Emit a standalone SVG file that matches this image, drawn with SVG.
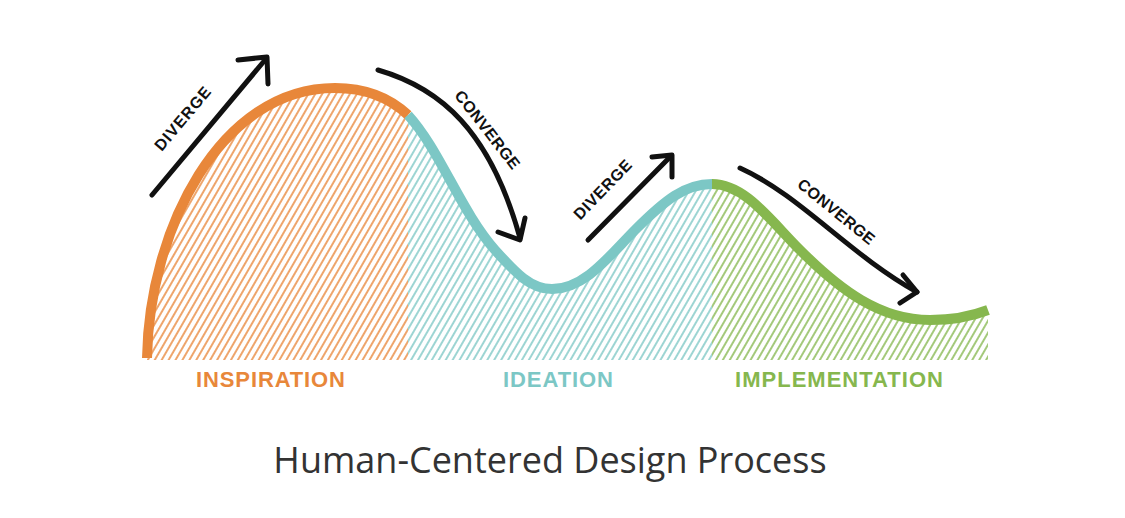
<svg xmlns="http://www.w3.org/2000/svg" width="1125" height="518" viewBox="0 0 1125 518">
<style>
.arrow{fill:none;stroke:#111;stroke-width:5;stroke-linecap:round;stroke-linejoin:round}
.alabel{font-family:"Liberation Sans",Arial,sans-serif;font-weight:bold;font-size:16px;fill:#111}
.phase{font-family:"Liberation Sans",Arial,sans-serif;font-weight:bold;font-size:22px}
.curve{fill:none;stroke-width:10;stroke-linecap:butt}
</style>
<defs>
<pattern id="hO" width="6" height="10" patternUnits="userSpaceOnUse" patternTransform="rotate(30)"><line x1="2" y1="0" x2="2" y2="10" stroke="#E8873A" stroke-width="1.5"/></pattern>
<pattern id="hT" width="6" height="10" patternUnits="userSpaceOnUse" patternTransform="rotate(30)"><line x1="2" y1="0" x2="2" y2="10" stroke="#7CC7C5" stroke-width="1.5"/></pattern>
<pattern id="hG" width="6" height="10" patternUnits="userSpaceOnUse" patternTransform="rotate(30)"><line x1="2" y1="0" x2="2" y2="10" stroke="#86B74E" stroke-width="1.5"/></pattern>
<clipPath id="area"><path d="M147,358 C149,230 220,88 335,88 C368,88 392,100 408,115 C440,150 460,210 495,250 C515,272 530,289 552,289 C585,289 610,255 635,230 C665,200 685,184 712,184 C745,184 770,220 800,250 C840,290 880,320 930,320 C955,320 975,315 988,310 L988,360 L147,360 Z"/></clipPath>
</defs>
<rect width="1125" height="518" fill="#fff"/>
<g id="hatch" clip-path="url(#area)">
<rect x="140" y="60" width="268" height="300" fill="url(#hO)"/>
<rect x="408" y="60" width="304" height="300" fill="url(#hT)"/>
<rect x="712" y="60" width="280" height="300" fill="url(#hG)"/>
</g>
<g id="inspiration">
<path class="curve" stroke="#E8873A" d="M147,358 C149,230 220,88 335,88 C368,88 392,100 408,115"/>
<text class="phase" x="270.5" y="387" text-anchor="middle" fill="#E8873A" textLength="149" lengthAdjust="spacing">INSPIRATION</text>
</g>
<g id="ideation">
<path class="curve" stroke="#7CC7C5" d="M408,115 C440,150 460,210 495,250 C515,272 530,289 552,289 C585,289 610,255 635,230 C665,200 685,184 712,184"/>
<text class="phase" x="558" y="387" text-anchor="middle" fill="#7CC7C5" textLength="110" lengthAdjust="spacing">IDEATION</text>
</g>
<g id="implementation">
<path class="curve" stroke="#86B74E" d="M712,184 C745,184 770,220 800,250 C840,290 880,320 930,320 C955,320 975,315 988,310"/>
<text class="phase" x="839" y="387" text-anchor="middle" fill="#86B74E" textLength="208" lengthAdjust="spacing">IMPLEMENTATION</text>
</g>
<g id="connectors">
<g id="diverge1">
<path class="arrow" d="M152,195 L265,60"/>
<path class="arrow" d="M238,60 L267,57 L268,84"/>
<text class="alabel" transform="translate(183,119) rotate(-50)" x="0" y="5" text-anchor="middle" textLength="78" lengthAdjust="spacing">DIVERGE</text>
</g>
<g id="converge1">
<path class="arrow" d="M378,70 C440,88 490,130 520,238"/>
<path class="arrow" d="M498,232 L520,240 L525,218"/>
<text class="alabel" transform="translate(487,130) rotate(52)" x="0" y="5" text-anchor="middle" textLength="95" lengthAdjust="spacing">CONVERGE</text>
</g>
<g id="diverge2">
<path class="arrow" d="M588,240 L670,157"/>
<path class="arrow" d="M652,157 L672,155 L672,177"/>
<text class="alabel" transform="translate(603,190) rotate(-46)" x="0" y="5" text-anchor="middle" textLength="76" lengthAdjust="spacing">DIVERGE</text>
</g>
<g id="converge2">
<path class="arrow" d="M740,168 C800,195 850,255 917,292"/>
<path class="arrow" d="M903,275 L917,292 L900,303"/>
<text class="alabel" transform="translate(836,212) rotate(39)" x="0" y="5" text-anchor="middle" textLength="94" lengthAdjust="spacing">CONVERGE</text>
</g>
</g>
<text id="title" x="550" y="473" text-anchor="middle" font-family="'Open Sans','Noto Sans',sans-serif" font-size="36" fill="#333">Human-Centered Design Process</text>
</svg>
